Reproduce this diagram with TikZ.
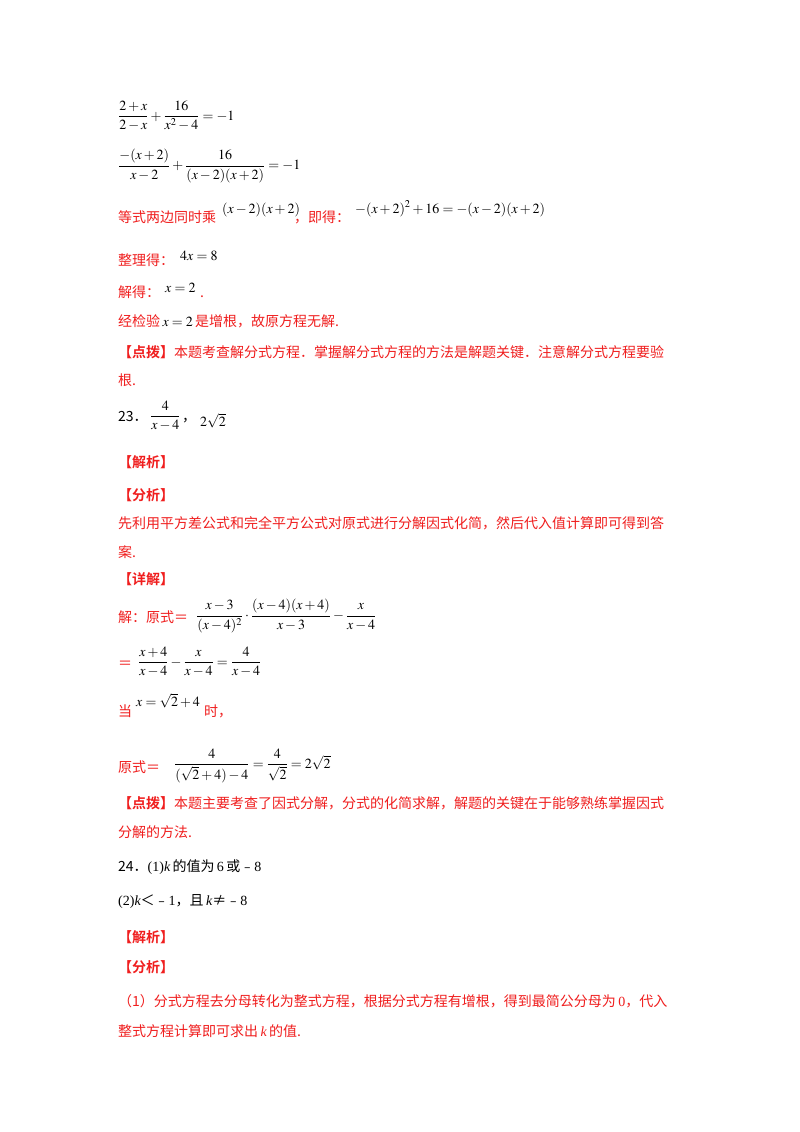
\documentclass[tikz,border=0pt]{standalone}
\usepackage{amsmath}
\usepackage{mathptmx}
\usepackage{fontspec}
\setmainfont{Liberation Serif}
\newfontfamily\cjk{Noto Sans CJK SC}
\newfontfamily\cjkb{Noto Sans CJK SC Bold}
\newfontfamily\lat{Liberation Serif}
\definecolor{rd}{RGB}{240,30,30}
\newcommand{\kk}{{\lat\itshape k}}
\tikzset{
  t/.style={anchor=base west,inner sep=0,text=rd,font=\cjk\fontsize{14}{16}\selectfont},
  tb/.style={anchor=base west,inner sep=0,text=black,font=\cjk\fontsize{14}{16}\selectfont},
  m/.style={anchor=west,inner sep=0,font=\fontsize{14}{16}\selectfont},
  mb/.style={anchor=base west,inner sep=0,font=\fontsize{14}{16}\selectfont}
}
\begin{document}
\begin{tikzpicture}[x=1pt,y=-1pt]
\useasboundingbox (0,0) rectangle (800,1132);
\fill[white] (0,0) rectangle (800,1132);
\node[m] (l1) at (118,116) {$\dfrac{2+x}{2-x}+\dfrac{16}{x^{2}-4}=-1$};
\node[m] (l2) at (118,166) {$\dfrac{-(x+2)}{x-2}+\dfrac{16}{(x-2)(x+2)}=-1$};
\node[t] (l3a) at (118,222) {等式两边同时乘};
\node[mb] (l3b) at (222,213) {$(x-2)(x+2)$};
\node[t] (l3c) at (294,222) {，即得：};
\node[mb] (l3d) at (355,213) {$-(x+2)^{2}+16=-(x-2)(x+2)$};
\node[t] (l4a) at (118,265) {整理得：};
\node[mb] (l4b) at (180,260) {$4x=8$};
\node[t] (l5a) at (118,297) {解得：};
\node[mb] (l5b) at (165,292) {$x=2$};
\node[t] (l5c) at (200,297) {.};
\node[t] (l6) at (118,326) {经检验\,{\fontsize{14}{16}\selectfont\color{black}$x=2$}\,是增根，故原方程无解.};
\node[t] (l7) at (118,357) {{\cjkb 【点拨】}本题考查解分式方程．掌握解分式方程的方法是解题关键．注意解分式方程要验};
\node[t] (l8) at (118,385) {根.};
\node[tb] (n23) at (118,421) {23．};
\node[m] (n23m) at (150,416) {$\dfrac{4}{x-4}$};
\node[tb] (n23c) at (182,421) {，};
\node[mb] (n23d) at (200,426) {$2\sqrt{2}$};
\node[t] (j1) at (118,467) {{\cjkb 【解析】}};
\node[t] (f1) at (118,500) {{\cjkb 【分析】}};
\node[t] (f2) at (118,528) {先利用平方差公式和完全平方公式对原式进行分解因式化简，然后代入值计算即可得到答};
\node[t] (f3) at (118,557) {案.};
\node[t] (x1) at (118,584) {{\cjkb 【详解】}};
\node[t] (s1) at (118,622) {解：原式＝};
\node[m,anchor=west] (s1m) at (196,616) {$\dfrac{x-3}{(x-4)^{2}}\cdot\dfrac{(x-4)(x+4)}{x-3}-\dfrac{x}{x-4}$};
\node[t] (s2) at (118,668) {＝};
\node[m] (s2m) at (138,662) {$\dfrac{x+4}{x-4}-\dfrac{x}{x-4}=\dfrac{4}{x-4}$};
\node[t] (s3) at (118,716) {当};
\node[mb] (s3m) at (136,706) {$x=\sqrt{2}+4$};
\node[t] (s3c) at (204,716) {时，};
\node[t] (s4) at (118,772) {原式＝};
\node[m] (s4m) at (174,766) {$\dfrac{4}{(\sqrt{2}+4)-4}=\dfrac{4}{\sqrt{2}}=2\sqrt{2}$};
\node[t] (d1) at (118,808) {{\cjkb 【点拨】}本题主要考查了因式分解，分式的化简求解，解题的关键在于能够熟练掌握因式};
\node[t] (d2) at (118,837) {分解的方法.};
\node[tb] (q1) at (118,871) {24．{\lat (1)}\kk\,的值为\,{\lat 6}\,或﹣{\lat 8}};
\node[tb] (q2) at (118,905) {{\lat (2)}\kk＜﹣{\lat 1}，且\,\kk≠﹣{\lat 8}};
\node[t] (j2) at (118,942) {{\cjkb 【解析】}};
\node[t] (f4) at (118,972) {{\cjkb 【分析】}};
\node[t] (f5) at (118,1006) {（1）分式方程去分母转化为整式方程，根据分式方程有增根，得到最简公分母为\,{\lat 0}，代入};
\node[t] (f6) at (118,1036) {整式方程计算即可求出\,\kk\,的值.};
\end{tikzpicture}
\end{document}
